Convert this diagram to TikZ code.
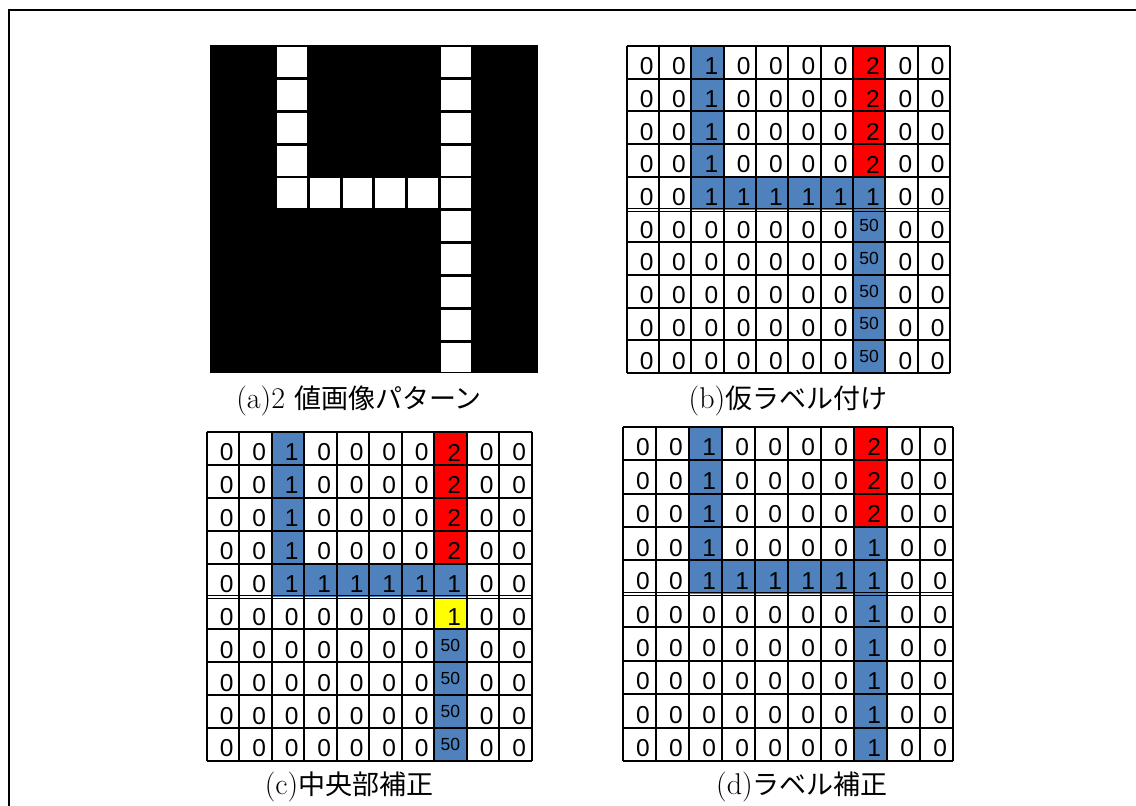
\documentclass[tikz,border=0pt]{standalone}
\usepackage{fontspec}
\setsansfont{Liberation Sans}
\newfontfamily\jpfont{Noto Sans CJK JP}
\definecolor{cb}{HTML}{4F81BD}
\definecolor{cr}{HTML}{FF0000}
\definecolor{cy}{HTML}{FFFF00}
\colorlet{cw}{white}
\tikzset{
  num0/.style={font=\sffamily\fontsize{24.5}{25}\selectfont, inner sep=0pt, xshift=3.8pt, yshift=-4pt},
  num1/.style={num0},
  num2/.style={num0},
  num50/.style={font=\sffamily\fontsize{17.5}{18}\selectfont, inner sep=0pt},
  gridline/.style={line width=2pt, black},
  dline/.style={line width=1.2pt, black},
  frameline/.style={line width=2pt, black},
  captext/.style={font=\fontsize{30}{32}\selectfont, inner sep=0pt, anchor=center},
  whitecell/.style={fill=white}
}
\def\rowA{w/0,w/0,b/1,w/0,w/0,w/0,w/0,r/2,w/0,w/0}
\def\rowB{w/0,w/0,b/1,b/1,b/1,b/1,b/1,b/1,w/0,w/0}
\def\rowC{w/0,w/0,w/0,w/0,w/0,w/0,w/0,b/50,w/0,w/0}
\def\rowD{w/0,w/0,w/0,w/0,w/0,w/0,w/0,y/1,w/0,w/0}
\def\rowE{w/0,w/0,b/1,w/0,w/0,w/0,w/0,b/1,w/0,w/0}
\def\rowF{w/0,w/0,w/0,w/0,w/0,w/0,w/0,b/1,w/0,w/0}
\newcommand{\labtable}[3]{%
\begin{scope}[#2]
 \foreach \kk [count=\ri from 0] in {#3} {
   \edef\currow{\csname row\kk\endcsname}
   \foreach \ff/\vv [count=\ci from 0] in \currow {
     \fill[c\ff] (\ci,\ri) rectangle ++(1,1);
     \node[num\vv] (#1-\ri-\ci) at (\ci+0.5,\ri+0.5) {\vv};
   }
 }
 \foreach \ii in {0,...,10} \draw[gridline] (\ii,0) -- (\ii,10);
 \foreach \ii in {0,1,2,3,4,6,7,8,9,10} \draw[gridline] (0,\ii) -- (10,\ii);
 \draw[dline] (0,4.965) -- (10,4.965) (0,5.05) -- (10,5.05);
\end{scope}}
\begin{document}
\begin{tikzpicture}[x=1pt,y=-1pt]
\useasboundingbox (0,0) rectangle (1136,806);
\fill[white] (0,0) rectangle (1136,806);
% outer frame
\draw[frameline] (9,807) -- (9,9.5) -- (1137,9.5);
% (a) binary image
\begin{scope}[shift={(210,45)},x=32.8pt,y=-32.8pt]
  \fill[black] (0,0) rectangle (10,10);
  \foreach \ri/\ci in {0/2,1/2,2/2,3/2,4/2,4/3,4/4,4/5,4/6,
                       0/7,1/7,2/7,3/7,4/7,5/7,6/7,7/7,8/7,9/7}
    \fill[whitecell] (\ci+0.04,\ri+0.07) rectangle (\ci+0.95,\ri+0.98);
\end{scope}
\node[captext] (capa) at (359,401) {(a)2 {\jpfont\fontsize{27}{28}\selectfont 値画像パターン}};
% (b)
\labtable{b}{shift={(626.7,46)},x=32.33pt,y=-32.7pt}{A,A,A,A,B,C,C,C,C,C}
\node[captext] (capb) at (788,401) {(b){\jpfont\fontsize{27}{28}\selectfont 仮ラベル付け}};
% (c)
\labtable{c}{shift={(206.7,432)},x=32.5pt,y=-32.9pt}{A,A,A,A,B,D,C,C,C,C}
\node[captext] (capc) at (349,787) {(c){\jpfont\fontsize{27}{28}\selectfont 中央部補正}};
% (d)
\labtable{d}{shift={(622.7,426.7)},x=33.03pt,y=-33.43pt}{A,A,A,E,B,F,F,F,F,F}
\node[captext] (capd) at (802,787) {(d){\jpfont\fontsize{27}{28}\selectfont ラベル補正}};
\end{tikzpicture}
\end{document}
